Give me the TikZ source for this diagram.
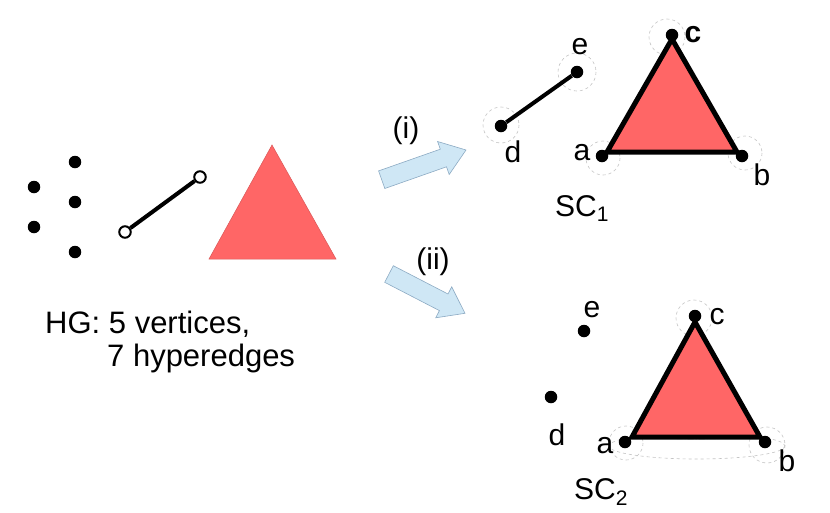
\documentclass[tikz,border=0pt]{standalone}
\usepackage{fontspec}
\setmainfont{Liberation Sans}
\definecolor{trired}{RGB}{255,102,102}
\definecolor{arrowblue}{RGB}{207,231,245}
\definecolor{arrowedge}{RGB}{140,170,195}
\definecolor{halogray}{RGB}{195,195,195}
\begin{document}
\begin{tikzpicture}[x=1pt,y=-1pt,
 dot/.style={circle,fill=black,inner sep=0pt,minimum size=12.5pt},
 hollow/.style={circle,draw=black,fill=white,line width=2pt,inner sep=0pt,minimum size=11.5pt},
 lbl/.style={font=\fontsize{30}{34}\selectfont,inner sep=0pt},
 bigtxt/.style={font=\fontsize{31}{36}\selectfont,inner sep=0pt,anchor=base west},
 halo/.style={draw=halogray,line width=0.6pt,dash pattern=on 3pt off 3pt},
 tri/.style={fill=trired,draw=black,line width=5pt,line join=miter},
 hedge/.style={line width=4pt},
 block/.style={fill=arrowblue,draw=arrowedge,line width=0.6pt,line join=miter}
]
\useasboundingbox (0,0) rectangle (830,512);

% ---------- left: hypergraph ----------
\node[dot] (v1) at (34,187) {};
\node[dot] (v2) at (75,162) {};
\node[dot] (v3) at (75,202) {};
\node[dot] (v4) at (34,227) {};
\node[dot] (v5) at (75,252) {};
\node[hollow] (h1) at (125,232) {};
\node[hollow] (h2) at (200,177) {};
\draw[hedge] (h1) -- (h2);
\coordinate (t1) at (272,145);
\coordinate (t2) at (209,259);
\coordinate (t3) at (336,259);
\fill[trired] (t1) -- (t2) -- (t3) -- cycle;
\draw[trired!85!black,line width=0.5pt] (t1) -- (t2) -- (t3) -- cycle;
\node[bigtxt] (hg1) at (45,333) {HG: 5 vertices,};
\node[bigtxt] (hg2) at (107,366) {7 hyperedges};

% ---------- block arrows ----------
\draw[block] (378.6,170.9) -- (440.3,149.2) -- (437.6,141.5) -- (466,150)
  -- (449.2,174.5) -- (446.5,166.8) -- (384.8,188.5) -- cycle;
\node[lbl] (li) at (406,131) {(i)};
\draw[block] (393.3,265.7) -- (448.0,294.0) -- (451.7,286.8) -- (465,313.3)
  -- (435.7,317.8) -- (439.4,310.6) -- (384.7,282.3) -- cycle;
\node[lbl] (lii) at (433,262) {(ii)};

% ---------- SC1 ----------
\draw[halo] (577,72) circle (19);
\draw[halo] (501,125) circle (18);
\draw[halo] (603,158) circle (17);
\draw[halo] (745,153) circle (17);
\draw[halo] (667,37) circle (18);
\coordinate (s1a) at (607,152);
\coordinate (s1b) at (737,152);
\coordinate (s1c) at (672,39);
\draw[tri] (s1a) -- (s1b) -- (s1c) -- cycle;
\node[dot] (d1) at (501,126) {};
\node[dot] (e1) at (577,72) {};
\draw[hedge] (d1) -- (e1);
\node[dot] (a1) at (602,156) {};
\node[dot] (b1) at (742,156) {};
\node[dot] (c1) at (672,35) {};
\node[lbl] (le1) at (580,47) {e};
\node[lbl] (ld1) at (513,152) {d};
\node[lbl] (la1) at (582,153) {a};
\node[lbl] (lb1) at (762,175) {b};
\node[lbl,font=\fontsize{30}{34}\selectfont\bfseries] (lc1) at (693,35) {c};
\node[lbl,anchor=base west] (sc1) at (555,216) {SC\textsubscript{1}};

% ---------- SC2 ----------
\draw[halo] (694,318) circle (18);
\draw[halo] (626,443) circle (17);
\draw[halo] (767,445) circle (18);
\draw[halo] (697,446) ellipse (88 and 13);
\draw[halo,dash pattern=on 6pt off 2pt on 1pt off 2pt] (697,434) ellipse (62 and 5);
\coordinate (s2a) at (632,437);
\coordinate (s2b) at (760,437);
\coordinate (s2c) at (695,322);
\draw[tri] (s2a) -- (s2b) -- (s2c) -- cycle;
\node[dot] (e2) at (584,331) {};
\node[dot] (d2) at (551,397) {};
\node[dot] (a2) at (625,442) {};
\node[dot] (b2) at (765,442) {};
\node[dot] (c2) at (695,316) {};
\node[lbl] (le2) at (592,310) {e};
\node[lbl] (ld2) at (557,435) {d};
\node[lbl] (la2) at (605,446) {a};
\node[lbl] (lb2) at (787,461) {b};
\node[lbl] (lc2) at (717,317) {c};
\node[lbl,anchor=base west] (sc2) at (574,499) {SC\textsubscript{2}};
\end{tikzpicture}
\end{document}
